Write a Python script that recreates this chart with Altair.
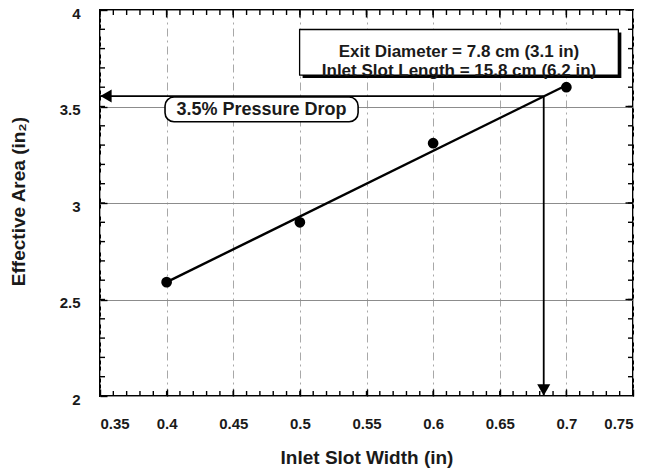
import altair as alt
import pandas as pd

# ---- data ----
slot_width = [0.4, 0.5, 0.6, 0.7]
eff_area = [2.59, 2.9, 3.31, 3.6]
fit_x = [0.4, 0.7]
fit_y = [2.59, 3.61]

x_major = [0.35, 0.4, 0.45, 0.5, 0.55, 0.6, 0.65, 0.7, 0.75]
y_major = [2, 2.5, 3, 3.5, 4]
x_minor = [round(0.35 + 0.01 * i, 2) for i in range(41)]
y_minor = [round(2 + 0.1 * i, 1) for i in range(21)]

# annotation anchors (data units)
drop_x = [0.683]
drop_y = [3.554]
x_lo, x_hi = 0.35, 0.75
y_lo, y_hi = 2.0, 4.0
info_box = dict(x1=0.4998, x2=0.739, y1=3.663, y2=3.899)
info_text = ["Exit Diameter = 7.8 cm (3.1 in)", "Inlet Slot Length = 15.8 cm (6.2 in)"]
info_pos = dict(x=0.6194, y=3.781)
drop_box = dict(x1=0.3988, x2=0.5437, y1=3.421, y2=3.549)
drop_text = "3.5% Pressure Drop"
drop_pos = dict(x=0.4712, y=3.483)

W, H = 533, 386
FONT = "Liberation Sans"
TK = 7  # inward major tick length

pts = pd.DataFrame({"w": slot_width, "a": eff_area})
fit = pd.DataFrame({"w": fit_x, "a": fit_y})

xs = alt.Scale(domain=[x_lo, x_hi], nice=False, zero=False)
ys = alt.Scale(domain=[y_lo, y_hi], nice=False, zero=False)

# axes pulled inside the frame by their tick length, so the ticks point inward
main_x = alt.Axis(values=x_major, format=".2~f", title="Inlet Slot Width (in)",
                  grid=True, gridColor="#a8a8a8", gridDash=[8, 4, 2, 4], gridWidth=1,
                  domain=False, ticks=True, tickSize=TK, offset=-TK, tickColor="black",
                  tickWidth=1.4, labelPadding=20,
                  labelFont=FONT, labelFontSize=15, labelFontWeight="bold", labelColor="#1a1a1a",
                  titleFont=FONT, titleFontSize=19, titleFontWeight="bold", titleColor="#1a1a1a",
                  titleX=W / 2, titleY=61 + TK, titleBaseline="middle", titleAlign="center")
main_y = alt.Axis(values=y_major, format="~g", title="Effective Area (in₂)",
                  grid=True, gridColor="#8c8c8c", gridWidth=1,
                  domain=False, ticks=True, tickSize=TK, offset=-TK, tickColor="black",
                  tickWidth=1.4, labelPadding=20, labelOffset=3,
                  labelFont=FONT, labelFontSize=15, labelFontWeight="bold", labelColor="#1a1a1a",
                  titleFont=FONT, titleFontSize=19, titleFontWeight="bold", titleColor="#1a1a1a",
                  titleX=-82 - TK, titleY=191, titleAngle=270, titleBaseline="middle", titleAlign="center")


def X(field):
    return alt.X(field, type="quantitative", scale=xs)


def Y(field):
    return alt.Y(field, type="quantitative", scale=ys)


# minor / opposite-side inward ticks: ticks centred on the frame, clipped to the plot area
xt_minor = pd.DataFrame({"xv": x_minor})
xt_major = pd.DataFrame({"xv": x_major})
yt_minor = pd.DataFrame({"yv": y_minor})
yt_major = pd.DataFrame({"yv": y_major})


def x_ticks(df, edge, size):
    return alt.Chart(df).mark_tick(orient="vertical", size=size, thickness=1.4,
                                   color="black", clip=True, opacity=1).encode(
        x=X("xv"), y=alt.YDatum(edge, scale=ys))


def y_ticks(df, edge, size):
    return alt.Chart(df).mark_tick(orient="horizontal", size=size, thickness=1.4,
                                   color="black", clip=True, opacity=1).encode(
        y=Y("yv"), x=alt.XDatum(edge, scale=xs))


ticks = [
    x_ticks(xt_minor, y_lo, 10), x_ticks(xt_minor, y_hi, 10),
    x_ticks(xt_major, y_hi, 15),
    y_ticks(yt_minor, x_lo, 10), y_ticks(yt_minor, x_hi, 10),
    y_ticks(yt_major, x_hi, 15),
]

points = alt.Chart(pts).mark_circle(size=115, color="black", opacity=1).encode(
    x=alt.X("w:Q", scale=xs, axis=main_x),
    y=alt.Y("a:Q", scale=ys, axis=main_y),
)

line = alt.Chart(fit).mark_line(color="black", strokeWidth=2.4).encode(x=X("w"), y=Y("a"))

arrow_df = pd.DataFrame({"x": drop_x, "y": drop_y, "x0": [x_lo], "y0": [y_lo]})
h_arrow = alt.Chart(arrow_df).mark_rule(color="black", strokeWidth=1.8).encode(
    x=X("x0"), x2="x:Q", y=Y("y"))
v_arrow = alt.Chart(arrow_df).mark_rule(color="black", strokeWidth=1.8).encode(
    x=X("x"), y=Y("y0"), y2="y:Q")
h_head = alt.Chart(arrow_df).mark_point(shape="triangle-left", filled=True, color="black",
                                        size=170, opacity=1, xOffset=6).encode(
    x=X("x0"), y=Y("y"))
v_head = alt.Chart(arrow_df).mark_point(shape="triangle-down", filled=True, color="black",
                                        size=170, opacity=1, yOffset=-6).encode(
    x=X("x"), y=Y("y0"))

ib = pd.DataFrame([info_box])
info_shadow = alt.Chart(ib).mark_rect(color="black", xOffset=3, yOffset=3, x2Offset=3, y2Offset=3).encode(
    x=X("x1"), x2="x2:Q", y=Y("y1"), y2="y2:Q")
info_rect = alt.Chart(ib).mark_rect(fill="white", stroke="black", strokeWidth=1.3).encode(
    x=X("x1"), x2="x2:Q", y=Y("y1"), y2="y2:Q")
info_lbl = alt.Chart(pd.DataFrame([{"x": info_pos["x"], "y": info_pos["y"], "t": info_text}])).mark_text(
    font=FONT, fontSize=17, fontWeight="bold", color="#1a1a1a", lineHeight=19, align="center",
    baseline="middle").encode(x=X("x"), y=Y("y"), text="t")

db = pd.DataFrame([drop_box])
drop_rect = alt.Chart(db).mark_rect(fill="white", stroke="black", strokeWidth=1.6, cornerRadius=9).encode(
    x=X("x1"), x2="x2:Q", y=Y("y1"), y2="y2:Q")
drop_lbl = alt.Chart(pd.DataFrame([{"x": drop_pos["x"], "y": drop_pos["y"], "t": drop_text}])).mark_text(
    font=FONT, fontSize=18, fontWeight="bold", color="#1a1a1a", align="center", baseline="middle").encode(
    x=X("x"), y=Y("y"), text="t")

chart = alt.layer(
    points, h_arrow, v_arrow, h_head, v_head, line,
    info_shadow, info_rect, info_lbl, drop_rect, drop_lbl, *ticks,
).properties(
    width=W, height=H,
    autosize=alt.AutoSizeParams(type="none"),
    padding={"left": 100, "top": 10, "right": 15, "bottom": 74},
    background="white",
).configure_view(stroke="black", strokeWidth=2)

chart.save("out.html", embed_options={"renderer": "svg", "actions": False})
